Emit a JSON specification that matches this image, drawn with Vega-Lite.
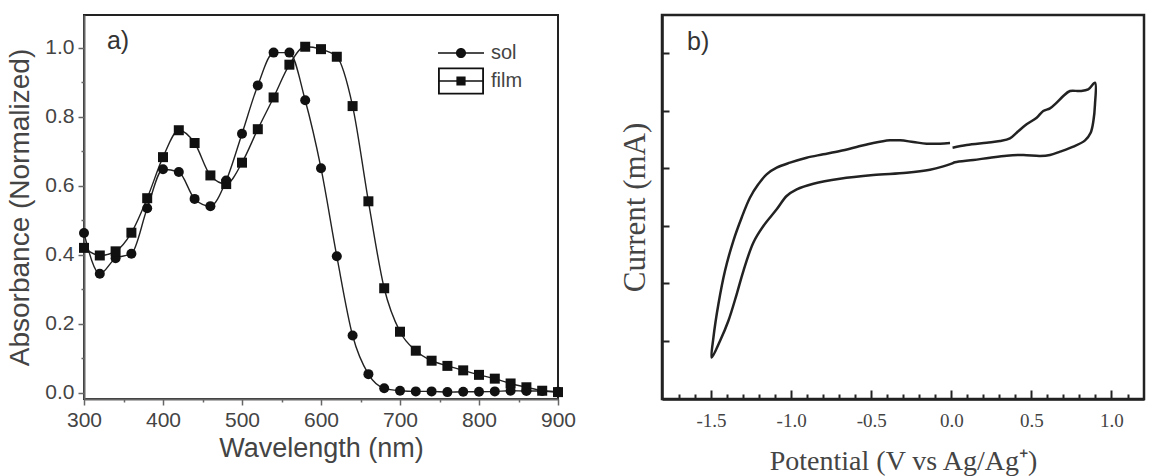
{
  "$schema": "https://vega.github.io/schema/vega-lite/v6.json",
  "autosize": {"type": "pad"},
  "padding": {"left": 5, "top": 13, "right": 7, "bottom": 5},
  "background": "white",
  "bounds": "flush",
  "spacing": 104,
  "config": {
    "font": "Liberation Sans",
    "axis": {"grid": false, "titleFontWeight": "normal"},
    "legend": {"titleFontWeight": "normal"}
  },
  "datasets": {
    "abs": [
      {"series": "sol", "wl": 300, "abs": 0.463},
      {"series": "sol", "wl": 320, "abs": 0.345},
      {"series": "sol", "wl": 340, "abs": 0.39},
      {"series": "sol", "wl": 360, "abs": 0.403},
      {"series": "sol", "wl": 380, "abs": 0.535},
      {"series": "sol", "wl": 400, "abs": 0.648},
      {"series": "sol", "wl": 420, "abs": 0.64},
      {"series": "sol", "wl": 440, "abs": 0.562},
      {"series": "sol", "wl": 460, "abs": 0.541},
      {"series": "sol", "wl": 480, "abs": 0.615},
      {"series": "sol", "wl": 500, "abs": 0.751},
      {"series": "sol", "wl": 520, "abs": 0.891},
      {"series": "sol", "wl": 540, "abs": 0.986},
      {"series": "sol", "wl": 560, "abs": 0.986},
      {"series": "sol", "wl": 580, "abs": 0.848},
      {"series": "sol", "wl": 600, "abs": 0.651},
      {"series": "sol", "wl": 620, "abs": 0.396},
      {"series": "sol", "wl": 640, "abs": 0.166},
      {"series": "sol", "wl": 660, "abs": 0.054},
      {"series": "sol", "wl": 680, "abs": 0.013},
      {"series": "sol", "wl": 700, "abs": 0.006},
      {"series": "sol", "wl": 720, "abs": 0.004},
      {"series": "sol", "wl": 740, "abs": 0.004},
      {"series": "sol", "wl": 760, "abs": 0.002},
      {"series": "sol", "wl": 780, "abs": 0.003},
      {"series": "sol", "wl": 800, "abs": 0.003},
      {"series": "sol", "wl": 820, "abs": 0.004},
      {"series": "sol", "wl": 840, "abs": 0.006},
      {"series": "sol", "wl": 860, "abs": 0.005},
      {"series": "sol", "wl": 880, "abs": 0.005},
      {"series": "sol", "wl": 900, "abs": 0.003},
      {"series": "film", "wl": 300, "abs": 0.42},
      {"series": "film", "wl": 320, "abs": 0.398},
      {"series": "film", "wl": 340, "abs": 0.41},
      {"series": "film", "wl": 360, "abs": 0.464},
      {"series": "film", "wl": 380, "abs": 0.564},
      {"series": "film", "wl": 400, "abs": 0.683},
      {"series": "film", "wl": 420, "abs": 0.761},
      {"series": "film", "wl": 440, "abs": 0.724},
      {"series": "film", "wl": 460, "abs": 0.63},
      {"series": "film", "wl": 480, "abs": 0.605},
      {"series": "film", "wl": 500, "abs": 0.667},
      {"series": "film", "wl": 520, "abs": 0.764},
      {"series": "film", "wl": 540, "abs": 0.856},
      {"series": "film", "wl": 560, "abs": 0.951},
      {"series": "film", "wl": 580, "abs": 1.003},
      {"series": "film", "wl": 600, "abs": 0.996},
      {"series": "film", "wl": 620, "abs": 0.974},
      {"series": "film", "wl": 640, "abs": 0.831},
      {"series": "film", "wl": 660, "abs": 0.555},
      {"series": "film", "wl": 680, "abs": 0.303},
      {"series": "film", "wl": 700, "abs": 0.177},
      {"series": "film", "wl": 720, "abs": 0.122},
      {"series": "film", "wl": 740, "abs": 0.093},
      {"series": "film", "wl": 760, "abs": 0.078},
      {"series": "film", "wl": 780, "abs": 0.065},
      {"series": "film", "wl": 800, "abs": 0.052},
      {"series": "film", "wl": 820, "abs": 0.041},
      {"series": "film", "wl": 840, "abs": 0.027},
      {"series": "film", "wl": 860, "abs": 0.016},
      {"series": "film", "wl": 880, "abs": 0.006},
      {"series": "film", "wl": 900, "abs": 0.002}
    ],
    "cv": [
      {"i": 1, "v": 0.008, "c": 3.356},
      {"i": 2, "v": 0.096, "c": 3.403},
      {"i": 3, "v": 0.221, "c": 3.443},
      {"i": 4, "v": 0.304, "c": 3.472},
      {"i": 5, "v": 0.366, "c": 3.519},
      {"i": 6, "v": 0.408, "c": 3.617},
      {"i": 7, "v": 0.47, "c": 3.762},
      {"i": 8, "v": 0.533, "c": 3.877},
      {"i": 9, "v": 0.574, "c": 3.993},
      {"i": 10, "v": 0.616, "c": 4.039},
      {"i": 11, "v": 0.658, "c": 4.138},
      {"i": 12, "v": 0.699, "c": 4.253},
      {"i": 13, "v": 0.741, "c": 4.34},
      {"i": 14, "v": 0.803, "c": 4.34},
      {"i": 15, "v": 0.855, "c": 4.369},
      {"i": 16, "v": 0.897, "c": 4.485},
      {"i": 17, "v": 0.897, "c": 4.109},
      {"i": 18, "v": 0.887, "c": 3.819},
      {"i": 19, "v": 0.87, "c": 3.617},
      {"i": 20, "v": 0.835, "c": 3.484},
      {"i": 21, "v": 0.762, "c": 3.374},
      {"i": 22, "v": 0.679, "c": 3.287},
      {"i": 23, "v": 0.616, "c": 3.229},
      {"i": 24, "v": 0.554, "c": 3.212},
      {"i": 25, "v": 0.45, "c": 3.229},
      {"i": 26, "v": 0.346, "c": 3.218},
      {"i": 27, "v": 0.242, "c": 3.183},
      {"i": 28, "v": 0.138, "c": 3.142},
      {"i": 29, "v": 0.023, "c": 3.102},
      {"i": 30, "v": 0.002, "c": 3.079},
      {"i": 31, "v": -0.05, "c": 3.032},
      {"i": 32, "v": -0.133, "c": 2.975},
      {"i": 33, "v": -0.279, "c": 2.922},
      {"i": 34, "v": -0.487, "c": 2.882},
      {"i": 35, "v": -0.695, "c": 2.818},
      {"i": 36, "v": -0.861, "c": 2.731},
      {"i": 37, "v": -0.965, "c": 2.633},
      {"i": 38, "v": -1.028, "c": 2.517},
      {"i": 39, "v": -1.09, "c": 2.286},
      {"i": 40, "v": -1.173, "c": 1.997},
      {"i": 41, "v": -1.236, "c": 1.707},
      {"i": 42, "v": -1.298, "c": 1.215},
      {"i": 43, "v": -1.34, "c": 0.81},
      {"i": 44, "v": -1.392, "c": 0.347},
      {"i": 45, "v": -1.444, "c": 0.0},
      {"i": 46, "v": -1.496, "c": -0.289},
      {"i": 47, "v": -1.485, "c": 0.058},
      {"i": 48, "v": -1.454, "c": 0.637},
      {"i": 49, "v": -1.413, "c": 1.215},
      {"i": 50, "v": -1.361, "c": 1.736},
      {"i": 51, "v": -1.309, "c": 2.141},
      {"i": 52, "v": -1.257, "c": 2.488},
      {"i": 53, "v": -1.205, "c": 2.72},
      {"i": 54, "v": -1.153, "c": 2.894},
      {"i": 55, "v": -1.09, "c": 3.009},
      {"i": 56, "v": -1.007, "c": 3.096},
      {"i": 57, "v": -0.903, "c": 3.183},
      {"i": 58, "v": -0.799, "c": 3.241},
      {"i": 59, "v": -0.695, "c": 3.299},
      {"i": 60, "v": -0.591, "c": 3.368},
      {"i": 61, "v": -0.487, "c": 3.438},
      {"i": 62, "v": -0.383, "c": 3.484},
      {"i": 63, "v": -0.32, "c": 3.484},
      {"i": 64, "v": -0.237, "c": 3.455},
      {"i": 65, "v": -0.154, "c": 3.426},
      {"i": 66, "v": -0.071, "c": 3.426},
      {"i": 67, "v": -0.008, "c": 3.438}
    ]
  },
  "hconcat": [
    {
      "width": 474,
      "height": 384,
      "view": {"stroke": "#222", "strokeWidth": 2},
      "resolve": {"scale": {"shape": "independent"}, "legend": {"shape": "independent"}},
      "layer": [
        {
          "data": {"name": "abs"},
          "mark": {"type": "line", "interpolate": "monotone", "color": "#222", "strokeWidth": 1.4},
          "encoding": {
            "x": {
              "field": "wl", "type": "quantitative",
              "scale": {"domain": [300, 900], "nice": false, "zero": false},
              "axis": {
                "title": "Wavelength (nm)",
                "values": [300, 350, 400, 450, 500, 550, 600, 650, 700, 750, 800, 850, 900],
                "tickCount": 200,
                "labelExpr": "datum.value % 100 === 0 ? datum.value : ''",
                "tickSize": {"condition": {"test": "datum.value % 100 === 0", "value": 6}, "value": 3},
                "tickColor": "#666", "tickWidth": 1.5,
                "domainColor": "#666", "domainWidth": 2,
                "labelFont": "Liberation Sans", "labelFontSize": 21, "labelColor": "#444", "labelPadding": 4,
                "labelFlush": false, "labelOverlap": false,
                "titleFont": "Liberation Sans", "titleFontSize": 27, "titleColor": "#444", "titlePadding": 5
              }
            },
            "y": {
              "field": "abs", "type": "quantitative",
              "scale": {"domain": [-0.018, 1.095], "nice": false, "zero": false},
              "axis": {
                "title": "Absorbance (Normalized)",
                "values": [0, 0.1, 0.2, 0.3, 0.4, 0.5, 0.6, 0.7, 0.8, 0.9, 1.0],
                "tickCount": 200,
                "labelExpr": "round(datum.value * 10) % 2 === 0 ? format(datum.value, '.1f') : ''",
                "tickSize": {"condition": {"test": "round(datum.value * 10) % 2 === 0", "value": 6}, "value": 3},
                "tickColor": "#666", "tickWidth": 1.5,
                "domainColor": "#666", "domainWidth": 2,
                "labelFont": "Liberation Sans", "labelFontSize": 21, "labelColor": "#444", "labelPadding": 4,
                "labelFlush": false, "labelOverlap": false,
                "titleFont": "Liberation Sans", "titleFontSize": 28, "titleColor": "#444", "titlePadding": 10
              }
            },
            "detail": {"field": "series"}
          }
        },
        {
          "data": {"name": "abs"},
          "mark": {"type": "point", "filled": true, "color": "#111", "opacity": 1, "size": 100},
          "encoding": {
            "x": {"field": "wl", "type": "quantitative"},
            "y": {"field": "abs", "type": "quantitative"},
            "shape": {
              "field": "series", "type": "nominal",
              "scale": {"domain": ["sol", "film"], "range": ["circle", "square"]},
              "legend": null
            }
          }
        },
        {
          "data": {"name": "abs"},
          "transform": [{"filter": "false"}],
          "mark": {"type": "point", "filled": true, "color": "#111", "opacity": 1, "size": 2116},
          "encoding": {
            "x": {"field": "wl", "type": "quantitative"},
            "y": {"field": "abs", "type": "quantitative"},
            "shape": {
              "field": "series", "type": "nominal",
              "scale": {"domain": ["sol", "film"], "range": ["M-1,-0.03H1V0.03H-1ZM0.22,0A0.22,0.22,0,1,1,-0.22,0A0.22,0.22,0,1,1,0.22,0Z", "M-1,-0.03H1V0.03H-1ZM-0.2,-0.2H0.2V0.2H-0.2ZM-1,-0.59H1V0.59H-1ZM-0.92,-0.51V0.51H0.92V-0.51Z"]},
              "legend": {
                "title": null, "orient": "none", "legendX": 353, "legendY": 14,
                "values": ["sol"],
                "labelFont": "Liberation Sans", "labelFontSize": 20, "labelColor": "#444", "labelOffset": 6,
                "symbolSize": 2116, "symbolFillColor": "#111", "symbolOpacity": 1
              }
            }
          }
        },
        {
          "data": {"name": "abs"},
          "transform": [{"filter": "false"}],
          "mark": {"type": "point", "filled": true, "color": "#111", "opacity": 1, "size": 2116},
          "encoding": {
            "x": {"field": "wl", "type": "quantitative"},
            "y": {"field": "abs", "type": "quantitative"},
            "shape": {
              "field": "series", "type": "nominal",
              "scale": {"domain": ["sol", "film"], "range": ["M-1,-0.03H1V0.03H-1ZM0.22,0A0.22,0.22,0,1,1,-0.22,0A0.22,0.22,0,1,1,0.22,0Z", "M-1,-0.03H1V0.03H-1ZM-0.2,-0.2H0.2V0.2H-0.2ZM-1,-0.59H1V0.59H-1ZM-0.92,-0.51V0.51H0.92V-0.51Z"]},
              "legend": {
                "title": null, "orient": "none", "legendX": 353, "legendY": 42,
                "values": ["film"],
                "labelFont": "Liberation Sans", "labelFontSize": 20, "labelColor": "#444", "labelOffset": 6,
                "symbolSize": 2116, "symbolFillColor": "#111", "symbolOpacity": 1
              }
            }
          }
        },
        {
          "data": {"values": [{"label": "a)"}]},
          "mark": {"type": "text", "font": "Liberation Sans", "fontSize": 25, "align": "left", "baseline": "middle", "color": "#333"},
          "encoding": {
            "x": {"datum": 329},
            "y": {"datum": 1.02},
            "text": {"field": "label"}
          }
        }
      ]
    },
    {
      "width": 482,
      "height": 384,
      "view": {"stroke": "#222", "strokeWidth": 2.5},
      "resolve": {"axis": {"x": "independent"}},
      "layer": [
        {
          "data": {"name": "cv"},
          "mark": {"type": "line", "interpolate": "catmull-rom", "color": "#222", "strokeWidth": 2.5},
          "encoding": {
            "x": {
              "field": "v", "type": "quantitative",
              "scale": {"domain": [-1.806, 1.203], "nice": false, "zero": false},
              "axis": {
                "orient": "bottom",
                "title": "Potential (V vs Ag/Ag⁺)",
                "values": [-1.5, -1.0, -0.5, 0.0, 0.5, 1.0],
                "tickCount": 200,
                "labelExpr": "datum.value < -0.01 ? '-' + format(-datum.value, '.1f') : format(abs(datum.value), '.1f')",
                "tickSize": -9,
                "tickColor": "#222", "tickWidth": 2,
                "domainColor": "#222", "domainWidth": 2.5,
                "labelFont": "Liberation Serif", "labelFontSize": 19, "labelColor": "#444", "labelPadding": 21,
                "labelFlush": false, "labelOverlap": false,
                "titleFont": "Liberation Serif", "titleFontSize": 28, "titleColor": "#444", "titlePadding": 17
              }
            },
            "y": {
              "field": "c", "type": "quantitative",
              "scale": {"domain": [-1.007, 5.66], "nice": false, "zero": false},
              "axis": {
                "title": "Current (mA)",
                "values": [0, 1, 2, 3, 4, 5],
                "tickCount": 200,
                "labels": false,
                "tickSize": -7,
                "tickColor": "#222", "tickWidth": 2,
                "domainColor": "#222", "domainWidth": 2.5,
                "titleFont": "Liberation Serif", "titleFontSize": 31, "titleColor": "#444", "titlePadding": 10
              }
            },
            "order": {"field": "i", "type": "quantitative"}
          }
        },
        {
          "data": {"name": "cv"},
          "transform": [{"filter": "false"}],
          "mark": {"type": "point", "opacity": 0},
          "encoding": {
            "x": {
              "field": "v", "type": "quantitative",
              "axis": {
                "orient": "bottom",
                "title": null,
                "values": [-1.7, -1.6, -1.4, -1.3, -1.2, -1.1, -0.9, -0.8, -0.7, -0.6, -0.4, -0.3, -0.2, -0.1, 0.1, 0.2, 0.3, 0.4, 0.6, 0.7, 0.8, 0.9, 1.1],
                "tickCount": 200,
                "labels": false,
                "domain": false,
                "tickSize": -5,
                "tickColor": "#222", "tickWidth": 2
              }
            },
            "y": {"field": "c", "type": "quantitative"}
          }
        },
        {
          "data": {"values": [{"label": "b)"}]},
          "mark": {"type": "text", "font": "Liberation Sans", "fontSize": 25, "align": "left", "baseline": "middle", "color": "#333"},
          "encoding": {
            "x": {"datum": -1.65, "type": "quantitative", "axis": null},
            "y": {"datum": 5.19},
            "text": {"field": "label"}
          }
        }
      ]
    }
  ]
}
